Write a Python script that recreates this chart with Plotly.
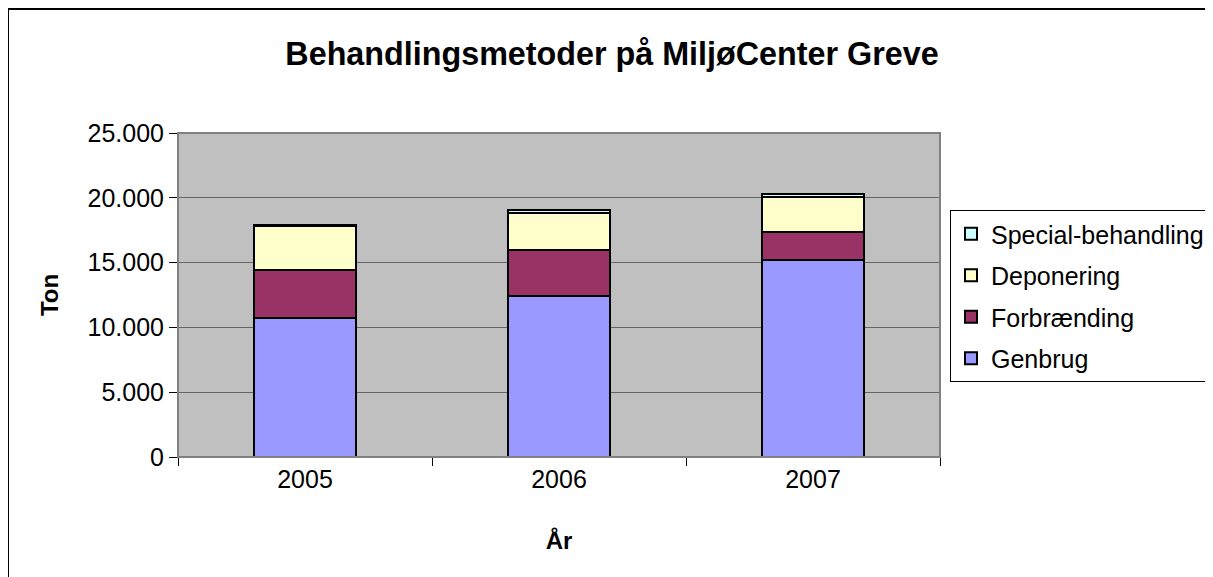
import plotly.graph_objects as go

years = ["2005", "2006", "2007"]
genbrug = [10700, 12420, 15200]
forbraending = [3730, 3550, 2180]
deponering = [3420, 2880, 2700]
special = [30, 210, 210]

series_names = ["Genbrug", "Forbrænding", "Deponering", "Special-behandling"]
series_values = [genbrug, forbraending, deponering, special]
series_colors = ["#9999FF", "#993366", "#FFFFCC", "#CCFFFF"]

y_tickvals = [0, 5000, 10000, 15000, 20000, 25000]

OFF = 8  # page body margin
W, H = 1213, 577
L, T = 178 - OFF, 133 - OFF
pw, ph = 762, 324
R = W - L - pw
B = H - T - ph


def px_x(page_x):
    return (page_x - OFF - L) / pw


def px_y(page_y):
    return (T + ph - (page_y - OFF)) / ph


fig = go.Figure()
n = len(series_names)
for i, (name, vals, col) in enumerate(zip(series_names, series_values, series_colors)):
    fig.add_trace(go.Bar(
        x=years, y=vals, name=name, legendgroup=name,
        legendrank=1000 + (n - i),
        marker=dict(color=col, line=dict(color="black", width=2)),
        width=0.4,
    ))

# outer chart border (decoration)
fig.add_shape(type="rect", xref="paper", yref="paper",
              x0=px_x(8), x1=px_x(W + 20), y0=px_y(H + 20), y1=px_y(9),
              line=dict(color="black", width=2), fillcolor="rgba(0,0,0,0)", layer="below")
# plot-area border
fig.add_shape(type="rect", xref="paper", yref="paper", x0=0, x1=1, y0=0, y1=1,
              line=dict(color="#808080", width=2), layer="above")

fig.update_layout(
    width=W, height=H,
    margin=dict(l=L, r=R, t=T, b=B, autoexpand=False),
    barmode="stack",
    separators=",.",
    paper_bgcolor="white",
    plot_bgcolor="#C0C0C0",
    font=dict(family="Liberation Sans, Arial, sans-serif", size=24, color="black"),
    title=dict(text="<b>Behandlingsmetoder på MiljøCenter Greve</b>",
               x=(612 - OFF) / W, xref="container", xanchor="center",
               y=1 - (54 - OFF) / H, yref="container", yanchor="middle",
               font=dict(size=32.3)),
    showlegend=True,
    legend=dict(traceorder="grouped", x=px_x(950), xanchor="left",
                y=px_y(210), yanchor="top",
                bordercolor="black", borderwidth=1, bgcolor="white",
                font=dict(size=25), tracegroupgap=6, itemwidth=30),
    xaxis=dict(title=dict(text="<b>År</b>", font=dict(size=24), standoff=40),
               showline=True, linecolor="black", linewidth=1,
               ticks="outside", ticklen=8, tickcolor="black",
               tickson="boundaries", showgrid=False,
               tickfont=dict(size=25)),
    yaxis=dict(title=dict(text="<b>Ton</b>", font=dict(size=24), standoff=22),
               range=[0, 25000], tickvals=y_tickvals, tickformat=",d",
               showline=True, linecolor="black", linewidth=1,
               ticks="outside", ticklen=8, tickcolor="black",
               showgrid=True, gridcolor="#666666", gridwidth=1, zeroline=False,
               tickfont=dict(size=25)),
)

fig.write_html("out.html")
